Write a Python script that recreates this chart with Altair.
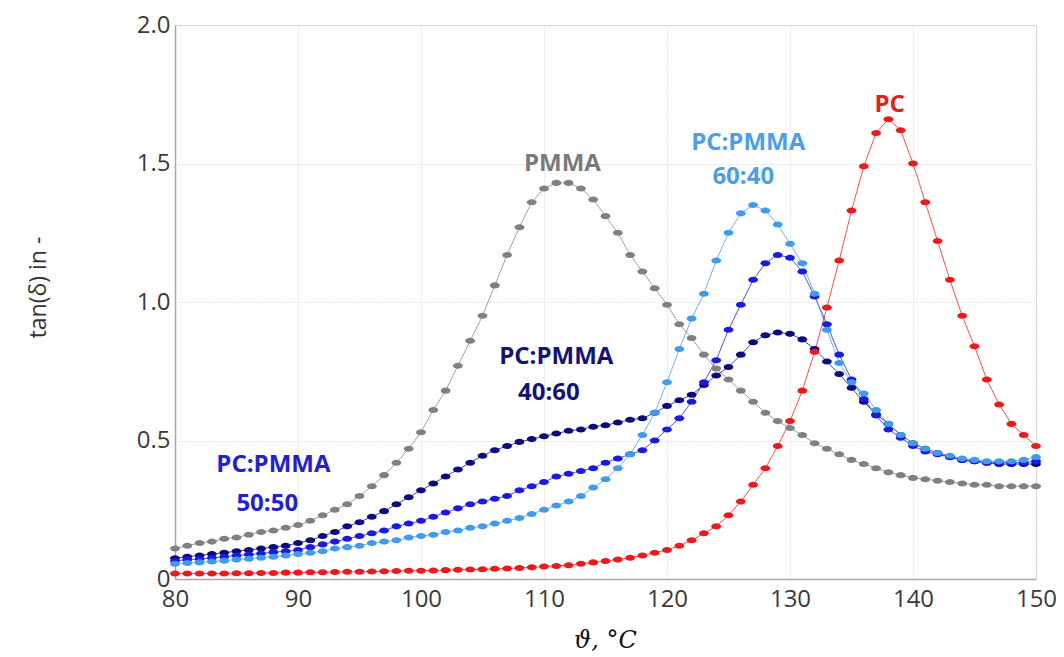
import altair as alt
import pandas as pd

temps = list(range(80, 151))

pmma = [0.11, 0.12, 0.13, 0.135, 0.145, 0.15, 0.16, 0.17, 0.175, 0.185,
        0.195, 0.21, 0.23, 0.25, 0.27, 0.30, 0.335, 0.375, 0.42, 0.47,
        0.53, 0.61, 0.68, 0.77, 0.86, 0.95, 1.06, 1.17, 1.27, 1.36,
        1.41, 1.43, 1.43, 1.41, 1.37, 1.31, 1.25, 1.17, 1.11, 1.05,
        0.99, 0.92, 0.87, 0.81, 0.76, 0.72, 0.68, 0.64, 0.60, 0.57,
        0.545, 0.52, 0.49, 0.47, 0.45, 0.43, 0.415, 0.40, 0.385, 0.375,
        0.365, 0.36, 0.355, 0.35, 0.345, 0.34, 0.34, 0.335, 0.335, 0.335,
        0.335]

pc = [0.02, 0.02, 0.02, 0.02, 0.02, 0.021, 0.021, 0.022, 0.022, 0.023,
      0.023, 0.024, 0.024, 0.025, 0.026, 0.026, 0.027, 0.028, 0.029, 0.03,
      0.03, 0.031, 0.032, 0.033, 0.034, 0.035, 0.037, 0.038, 0.04, 0.042,
      0.045, 0.047, 0.05, 0.055, 0.06, 0.065, 0.07, 0.077, 0.085, 0.095,
      0.105, 0.12, 0.14, 0.165, 0.19, 0.23, 0.28, 0.34, 0.40, 0.48,
      0.57, 0.68, 0.82, 0.98, 1.15, 1.33, 1.49, 1.61, 1.66, 1.62,
      1.50, 1.36, 1.22, 1.08, 0.95, 0.84, 0.72, 0.63, 0.56, 0.52,
      0.48]

pc_pmma_60_40 = [0.055, 0.058, 0.06, 0.063, 0.066, 0.07, 0.073, 0.077, 0.08, 0.085,
                 0.09, 0.095, 0.10, 0.11, 0.115, 0.12, 0.13, 0.135, 0.14, 0.15,
                 0.155, 0.16, 0.17, 0.175, 0.185, 0.19, 0.20, 0.21, 0.22, 0.235,
                 0.25, 0.265, 0.28, 0.30, 0.33, 0.36, 0.40, 0.45, 0.52, 0.60,
                 0.71, 0.83, 0.94, 1.03, 1.15, 1.25, 1.32, 1.35, 1.33, 1.28,
                 1.21, 1.14, 1.03, 0.90, 0.78, 0.71, 0.67, 0.61, 0.56, 0.52,
                 0.49, 0.47, 0.455, 0.445, 0.435, 0.43, 0.425, 0.425, 0.425, 0.43,
                 0.44]

pc_pmma_50_50 = [0.065, 0.07, 0.072, 0.076, 0.08, 0.085, 0.088, 0.092, 0.097, 0.10,
                 0.105, 0.115, 0.125, 0.135, 0.145, 0.155, 0.165, 0.175, 0.19, 0.20,
                 0.21, 0.225, 0.24, 0.255, 0.27, 0.28, 0.29, 0.30, 0.32, 0.335,
                 0.35, 0.37, 0.38, 0.39, 0.40, 0.42, 0.435, 0.45, 0.465, 0.50,
                 0.54, 0.58, 0.64, 0.71, 0.79, 0.90, 0.99, 1.08, 1.14, 1.17,
                 1.16, 1.11, 1.02, 0.92, 0.81, 0.72, 0.65, 0.59, 0.54, 0.51,
                 0.48, 0.46, 0.45, 0.44, 0.43, 0.425, 0.42, 0.42, 0.42, 0.42,
                 0.425]

pc_pmma_40_60 = [0.075, 0.08, 0.085, 0.09, 0.095, 0.10, 0.105, 0.11, 0.115, 0.12,
                 0.13, 0.14, 0.155, 0.17, 0.19, 0.205, 0.225, 0.245, 0.27, 0.295,
                 0.32, 0.345, 0.37, 0.395, 0.42, 0.445, 0.465, 0.48, 0.495, 0.505,
                 0.515, 0.525, 0.535, 0.54, 0.55, 0.555, 0.565, 0.575, 0.58, 0.60,
                 0.625, 0.645, 0.665, 0.70, 0.735, 0.765, 0.81, 0.855, 0.88, 0.89,
                 0.885, 0.865, 0.83, 0.785, 0.74, 0.69, 0.64, 0.595, 0.56, 0.52,
                 0.49, 0.47, 0.455, 0.44, 0.43, 0.425, 0.42, 0.415, 0.415, 0.415,
                 0.415]

series_names = ["PMMA", "PC:PMMA 40:60", "PC:PMMA 50:50", "PC:PMMA 60:40", "PC"]
series_values = [pmma, pc_pmma_40_60, pc_pmma_50_50, pc_pmma_60_40, pc]
series_colors = ["#808080", "#0b0b80", "#1a1ae6", "#3d9bf0", "#f01818"]
label_colors = ["#7a7a7a", "#121278", "#2020d8", "#4a9fe8", "#e61e1e"]

# annotation texts (series, text, temperature, tan delta)
label_series = ["PMMA", "PC:PMMA 60:40", "PC:PMMA 60:40", "PC",
                "PC:PMMA 40:60", "PC:PMMA 40:60", "PC:PMMA 50:50", "PC:PMMA 50:50"]
label_texts = ["PMMA", "PC:PMMA", "60:40", "PC", "PC:PMMA", "40:60", "PC:PMMA", "50:50"]
label_x = [111.5, 126.6, 126.2, 138.1, 111.0, 110.4, 88.0, 87.5]
label_y = [1.50, 1.575, 1.45, 1.71, 0.80, 0.67, 0.41, 0.27]

x_ticks = [80, 90, 100, 110, 120, 130, 140, 150]
y_ticks = [0, 0.5, 1.0, 1.5, 2.0]

rows = []
for name, vals in zip(series_names, series_values):
    for t, v in zip(temps, vals):
        rows.append({"series": name, "T": t, "v": v, "order": series_names.index(name)})
df = pd.DataFrame(rows)

lab = pd.DataFrame({"series": label_series, "text": label_texts,
                    "T": label_x, "v": label_y})

xscale = alt.Scale(domain=[80, 150], nice=False, zero=False)
yscale = alt.Scale(domain=[0, 2.0], nice=False)
cscale = alt.Scale(domain=series_names, range=series_colors)
lscale = alt.Scale(domain=series_names, range=label_colors)

xaxis = alt.Axis(values=x_ticks, title="ϑ, °C", grid=True, ticks=False,
                 labelFlush=False, labelOverlap=False,
                 labelFontSize=24, labelFont="Open Sans", labelColor="#3a3a3a",
                 labelPadding=8, domainColor="#a8a8a8", domainWidth=1.5,
                 gridColor="#d0d0d0", gridDash=[1, 2], gridWidth=1,
                 titleFont="DejaVu Serif", titleFontStyle="italic", titleFontWeight="normal",
                 titleFontSize=24, titleColor="#111111", titleX=430, titleY=61,
                 titleBaseline="middle", titleAlign="center")
yaxis = alt.Axis(values=y_ticks, title="tan(δ) in -", grid=True, ticks=False,
                 labelFlush=False, labelOverlap=False,
                 labelExpr="datum.value == 0 ? '0' : format(datum.value, '.1f')",
                 labelFontSize=24, labelFont="Open Sans", labelColor="#3a3a3a",
                 labelPadding=5, domainColor="#a8a8a8", domainWidth=1.5,
                 gridColor="#d0d0d0", gridDash=[1, 2], gridWidth=1,
                 titleFont="Open Sans", titleFontWeight="normal", titleFontSize=23,
                 titleColor="#333333", titleX=-137, titleY=262, titleAngle=-90,
                 titleBaseline="middle", titleAlign="center")

base = alt.Chart(df)
lines = base.mark_line(strokeWidth=1, opacity=0.75).encode(
    x=alt.X("T:Q", scale=xscale, axis=xaxis),
    y=alt.Y("v:Q", scale=yscale, axis=yaxis),
    color=alt.Color("series:N", scale=cscale, legend=None),
    detail="series:N",
    order="T:Q",
)
ellipse = "M -1 0 A 1 0.62 0 1 1 1 0 A 1 0.62 0 1 1 -1 0 Z"
points = base.mark_point(filled=True, shape=ellipse, size=95, opacity=1).encode(
    x="T:Q", y="v:Q",
    color=alt.Color("series:N", scale=cscale, legend=None),
    order="order:Q",
)
texts = alt.Chart(lab).mark_text(font="Open Sans", fontWeight="bold", fontSize=24,
                                 align="center", baseline="middle").encode(
    x="T:Q", y="v:Q", text="text:N",
    color=alt.Color("series:N", scale=lscale, legend=None),
)

chart = alt.layer(lines, points, texts).resolve_scale(color="independent").properties(
    width=861, height=554,
    autosize=alt.AutoSizeParams(type="none"),
    padding={"left": 167, "top": 17, "right": 20, "bottom": 76},
).configure_view(stroke=None).configure(background="white")

chart.save("out.html", embed_options={"renderer": "svg", "actions": False})
